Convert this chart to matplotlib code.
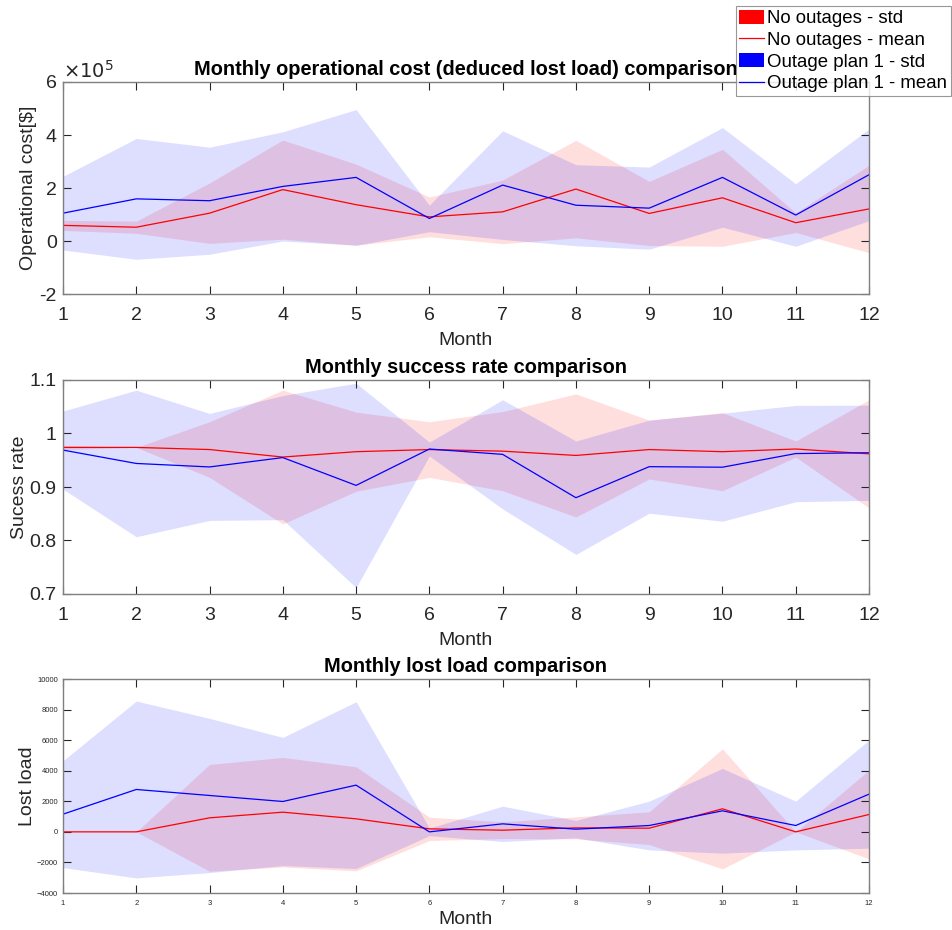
import numpy as np
import matplotlib
matplotlib.use("Agg")
import matplotlib.pyplot as plt
from matplotlib.patches import Patch
from matplotlib.lines import Line2D

plt.rcParams['font.family'] = ['Liberation Sans', 'DejaVu Sans']

months = list(range(1, 13))

# Operational cost (x1e5)
cost_no_mean = [0.59, 0.52, 1.05, 1.94, 1.37, 0.91, 1.10, 1.96, 1.04, 1.63, 0.69, 1.21]
cost_no_std = [0.19, 0.23, 1.14, 1.87, 1.53, 0.75, 1.20, 1.84, 1.21, 1.83, 0.37, 1.65]
cost_p1_mean = [1.05, 1.59, 1.52, 2.06, 2.40, 0.85, 2.11, 1.35, 1.24, 2.40, 0.98, 2.50]
cost_p1_std = [1.39, 2.28, 2.02, 2.06, 2.56, 0.50, 2.05, 1.53, 1.55, 1.88, 1.18, 1.73]

# Success rate
sr_no_mean = [0.974, 0.974, 0.970, 0.956, 0.966, 0.970, 0.967, 0.959, 0.970, 0.966, 0.971, 0.962]
sr_no_std = [0.004, 0.0, 0.052, 0.125, 0.074, 0.052, 0.074, 0.115, 0.055, 0.073, 0.015, 0.101]
sr_p1_mean = [0.969, 0.944, 0.9375, 0.955, 0.903, 0.971, 0.961, 0.880, 0.938, 0.937, 0.9625, 0.964]
sr_p1_std = [0.073, 0.137, 0.100, 0.116, 0.191, 0.013, 0.102, 0.106, 0.087, 0.101, 0.090, 0.089]

# Lost load
ll_no_mean = [0, 0, 917, 1288, 852, 197, 109, 262, 240, 1507, 0, 1135]
ll_no_std = [0, 0, 3493, 3581, 3406, 764, 546, 721, 1070, 3930, 0, 2904]
ll_p1_mean = [1157, 2773, 2380, 1987, 3057, 0, 524, 175, 415, 1376, 415, 2467]
ll_p1_std = [3493, 5786, 5044, 4192, 5458, 250, 1157, 570, 1594, 2772, 1594, 3537]

red_fill = (1.0, 0.0, 0.0, 0.13)
blue_fill = (0.0, 0.0, 1.0, 0.13)
frame_col = '#7f7f7f'
tick_col = '#262626'

fig = plt.figure(figsize=(9.52, 9.30), dpi=100)
W, H = 952, 930
def ax_rect(x0, y0, x1, y1):
    return [x0 / W, 1 - y1 / H, (x1 - x0) / W, (y1 - y0) / H]

axes = [fig.add_axes(ax_rect(63, 82, 869, 294)),
        fig.add_axes(ax_rect(63, 380, 869, 594)),
        fig.add_axes(ax_rect(63, 679, 869, 893))]

def draw(ax, no_m, no_s, p1_m, p1_s, scale=1.0):
    x = np.array(months)
    nm = np.array(no_m) * scale; ns = np.array(no_s) * scale
    pm = np.array(p1_m) * scale; ps = np.array(p1_s) * scale
    ax.fill_between(x, nm - ns, nm + ns, color=red_fill, linewidth=0)
    ax.plot(x, nm, color='red', lw=0.9)
    ax.fill_between(x, pm - ps, pm + ps, color=blue_fill, linewidth=0)
    ax.plot(x, pm, color='blue', lw=0.9)
    ax.set_xlim(1, 12)
    ax.set_xticks(months)
    for s in ax.spines.values():
        s.set_color(frame_col)
        s.set_linewidth(1.0)
    ax.tick_params(direction='in', top=True, right=True, color=tick_col,
                   length=6, width=0.8, labelcolor=tick_col)

titles = ['Monthly operational cost (deduced lost load) comparison',
          'Monthly success rate comparison',
          'Monthly lost load comparison']

# Top
ax = axes[0]
draw(ax, cost_no_mean, cost_no_std, cost_p1_mean, cost_p1_std, scale=1e5)
ax.set_ylim(-2e5, 6e5)
ax.set_yticks([-2e5, 0, 2e5, 4e5, 6e5])
ax.set_yticklabels(['-2', '0', '2', '4', '6'])
ax.tick_params(labelsize=14)
ax.tick_params(axis='x', pad=9)
ax.tick_params(axis='y', pad=4.5)
ax.set_ylabel('Operational cost[$]', fontsize=14, color=tick_col, labelpad=2)
ax.set_xlabel('Month', fontsize=14, color=tick_col, labelpad=6)
ax.set_title(titles[0], fontsize=14.4, fontweight='bold', pad=5)
ax.text(0.0, 1.0, r'$\times 10^{5}$', transform=ax.transAxes, fontsize=14,
        color=tick_col, ha='left', va='bottom')

# Middle
ax = axes[1]
draw(ax, sr_no_mean, sr_no_std, sr_p1_mean, sr_p1_std)
ax.set_ylim(0.7, 1.1)
ax.set_yticks([0.7, 0.8, 0.9, 1.0, 1.1])
ax.set_yticklabels(['0.7', '0.8', '0.9', '1', '1.1'])
ax.tick_params(labelsize=14)
ax.tick_params(axis='x', pad=9)
ax.tick_params(axis='y', pad=4.5)
ax.set_ylabel('Sucess rate', fontsize=14, color=tick_col, labelpad=1)
ax.set_xlabel('Month', fontsize=14, color=tick_col, labelpad=6)
ax.set_title(titles[1], fontsize=14.4, fontweight='bold', pad=5)

# Bottom
ax = axes[2]
draw(ax, ll_no_mean, ll_no_std, ll_p1_mean, ll_p1_std)
ax.set_ylim(-4000, 10000)
ax.set_yticks(np.arange(-4000, 10001, 2000))
ax.tick_params(labelsize=5.5)
ax.tick_params(axis='x', pad=5)
ax.set_ylabel('Lost load', fontsize=14, color=tick_col, labelpad=1)
ax.set_xlabel('Month', fontsize=14, color=tick_col, labelpad=3)
ax.set_title(titles[2], fontsize=14.4, fontweight='bold', pad=5)

handles = [Patch(facecolor='red', edgecolor='none'),
           Line2D([0], [0], color='red', lw=0.9),
           Patch(facecolor='blue', edgecolor='none'),
           Line2D([0], [0], color='blue', lw=0.9)]
labels = ['No outages - std', 'No outages - mean',
          'Outage plan 1 - std', 'Outage plan 1 - mean']
leg = fig.legend(handles, labels, loc='upper right',
                 bbox_to_anchor=(951 / W, 1 - 6 / H), fontsize=13.4,
                 frameon=True, fancybox=False, edgecolor=frame_col,
                 handlelength=1.35, handleheight=0.8, handletextpad=0.15,
                 labelspacing=0.22, borderpad=0.2, borderaxespad=0)
leg.get_frame().set_linewidth(0.8)

fig.savefig('out.png', dpi=100)
